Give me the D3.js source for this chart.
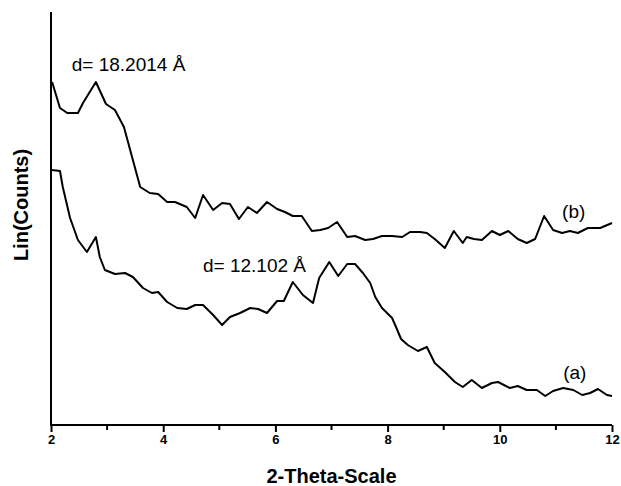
<!DOCTYPE html>
<html>
<head>
<meta charset="utf-8">
<script src="https://cdn.jsdelivr.net/npm/d3@7"></script>
<style>
  body { margin: 0; background: #fff; }
  text { font-family: "Liberation Sans", Arial, sans-serif; fill: #000; }
</style>
</head>
<body>
<div id="chart"></div>
<script>
var svgWidth = 621;
var svgHeight = 486;

var margin = {
  top: 12,
  right: 9,
  bottom: 61,
  left: 51
};

var width = svgWidth - margin.left - margin.right;
var height = svgHeight - margin.top - margin.bottom;

// 2-theta positions and counts (arbitrary units)
var thetaB = [2.02, 2.16, 2.29, 2.48, 2.57, 2.80, 2.98, 3.14, 3.30, 3.59, 3.76, 3.91, 4.07, 4.21, 4.42, 4.57,
  4.71, 4.89, 5.05, 5.19, 5.35, 5.51, 5.67, 5.85, 6.03, 6.17, 6.31, 6.47, 6.65, 6.80, 6.94, 7.10, 7.28,
  7.42, 7.60, 7.74, 7.90, 8.08, 8.26, 8.40, 8.58, 8.70, 8.84, 9.02, 9.18, 9.34, 9.41, 9.54, 9.68, 9.86,
  10.00, 10.15, 10.32, 10.48, 10.63, 10.79, 10.95, 11.11, 11.25, 11.39, 11.57, 11.79, 12.00];
var countsB = [343, 317, 312, 312, 322, 343, 321, 315, 298, 238, 232, 231, 223, 223, 218, 207,
  230, 215, 222, 221, 206, 218, 212, 223, 216, 213, 209, 209, 194, 195, 197, 203, 188,
  189, 185, 186, 189, 189, 188, 193, 193, 192, 186, 177, 194, 182, 188, 186, 185, 194,
  190, 194, 186, 182, 186, 209, 195, 192, 194, 192, 197, 197, 202];

var thetaA = [2.02, 2.16, 2.21, 2.34, 2.48, 2.64, 2.80, 2.87, 2.96, 3.14, 3.32, 3.46, 3.64, 3.80, 3.91,
  4.07, 4.25, 4.42, 4.57, 4.71, 4.89, 5.05, 5.19, 5.37, 5.55, 5.69, 5.85, 6.03, 6.15, 6.31, 6.49,
  6.67, 6.78, 6.96, 7.12, 7.28, 7.42, 7.56, 7.69, 7.78, 7.90, 8.08, 8.15, 8.24, 8.36, 8.54, 8.70,
  8.84, 9.02, 9.20, 9.34, 9.50, 9.68, 9.86, 9.97, 10.18, 10.32, 10.48, 10.66, 10.81, 10.95, 11.13,
  11.31, 11.47, 11.61, 11.75, 11.91, 12.00];
var countsA = [255, 254, 238, 207, 185, 173, 188, 168, 155, 151, 152, 148, 137, 132, 133,
  123, 117, 116, 120, 120, 110, 100, 108, 112, 117, 116, 112, 124, 124, 143, 130,
  122, 147, 163, 149, 161, 161, 152, 142, 128, 117, 107, 98, 86, 80, 74, 78,
  62, 53, 43, 38, 45, 37, 42, 43, 37, 39, 35, 35, 29, 34, 37,
  35, 30, 32, 36, 30, 29];

var majorTicks = [2, 4, 6, 8, 10, 12];
var minorTicks = [3, 5, 7, 9, 11];

// peak annotations and curve names
var notes = [
  { text: "d= 18.2014 Å", theta: 2.37, counts: 354 },
  { text: "d= 12.102 Å", theta: 4.71, counts: 153 }
];
var curveNames = [
  { text: "(b)", theta: 11.11, counts: 207 },
  { text: "(a)", theta: 11.13, counts: 46 }
];

var svg = d3
  .select("#chart")
  .append("svg")
  .attr("width", svgWidth)
  .attr("height", svgHeight);

var chartGroup = svg.append("g")
  .attr("transform", `translate(${margin.left}, ${margin.top})`);

var xScale = d3.scaleLinear()
  .domain([2, 12])
  .range([0, width]);

var yScale = d3.scaleLinear()
  .domain([0, 413])
  .range([height, 0]);

// x axis with major ticks, minor ticks drawn separately
var bottomAxis = d3.axisBottom(xScale)
  .tickValues(majorTicks)
  .tickSize(7)
  .tickPadding(3)
  .tickFormat(d3.format("d"));

var xAxis = chartGroup.append("g")
  .attr("transform", `translate(0, ${height})`)
  .call(bottomAxis);

xAxis.select(".domain")
  .attr("stroke-width", 2)
  .attr("d", `M0,0H${width}`);
xAxis.selectAll(".tick line").attr("stroke-width", 2);
xAxis.selectAll(".tick text")
  .attr("font-size", "13px")
  .attr("font-weight", "bold")
  .attr("font-family", "Liberation Sans, Arial, sans-serif");

xAxis.selectAll(".minor")
  .data(minorTicks)
  .enter()
  .append("line")
  .attr("class", "minor")
  .attr("x1", d => xScale(d))
  .attr("x2", d => xScale(d))
  .attr("y1", 0)
  .attr("y2", 5)
  .attr("stroke", "#000")
  .attr("stroke-width", 2);

// y axis is only a line
chartGroup.append("line")
  .attr("x1", 0)
  .attr("x2", 0)
  .attr("y1", 0)
  .attr("y2", height + 1)
  .attr("stroke", "#000")
  .attr("stroke-width", 2);

var line = d3.line()
  .x(d => xScale(d[0]))
  .y(d => yScale(d[1]));

var seriesB = d3.zip(thetaB, countsB);
var seriesA = d3.zip(thetaA, countsA);

chartGroup.selectAll(".curve")
  .data([seriesB, seriesA])
  .enter()
  .append("path")
  .attr("class", "curve")
  .attr("d", line)
  .attr("fill", "none")
  .attr("stroke", "#000")
  .attr("stroke-width", 2)
  .attr("stroke-linejoin", "round");

chartGroup.selectAll(".note")
  .data(notes)
  .enter()
  .append("text")
  .attr("class", "note")
  .attr("x", d => xScale(d.theta))
  .attr("y", d => yScale(d.counts))
  .attr("font-size", "19px")
  .text(d => d.text);

chartGroup.selectAll(".name")
  .data(curveNames)
  .enter()
  .append("text")
  .attr("class", "name")
  .attr("x", d => xScale(d.theta))
  .attr("y", d => yScale(d.counts))
  .attr("font-size", "19px")
  .text(d => d.text);

// axis titles
svg.append("text")
  .attr("x", margin.left + width / 2)
  .attr("y", 483)
  .attr("text-anchor", "middle")
  .attr("font-size", "20px")
  .attr("font-weight", "bold")
  .text("2-Theta-Scale");

svg.append("text")
  .attr("transform", "translate(28, 205) rotate(-90)")
  .attr("text-anchor", "middle")
  .attr("font-size", "20px")
  .attr("font-weight", "bold")
  .text("Lin(Counts)");
</script>
</body>
</html>
